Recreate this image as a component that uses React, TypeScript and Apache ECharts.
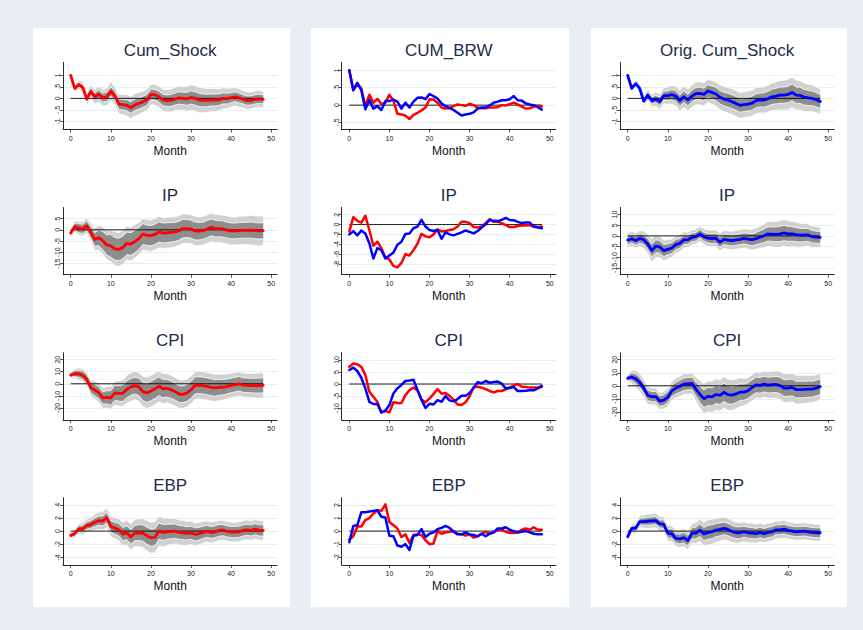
import React, { useEffect, useRef } from "react";
import * as echarts from "echarts";

// ---------- data ----------
const MONTHS = Array.from({ length: 49 }, (_, i) => i);
const X_TICKS = [0, 10, 20, 30, 40, 50];

const TITLES_LEFT = ["Cum_Shock", "IP", "CPI", "EBP"];
const TITLES_MID = ["CUM_BRW", "IP", "CPI", "EBP"];
const TITLES_RIGHT = ["Orig. Cum_Shock", "IP", "CPI", "EBP"];

const LEFT_Y_TICKS = [[-1, -0.5, 0, 0.5, 1], [-15, -10, -5, 0, 5], [-20, -10, 0, 10, 20], [-4, -2, 0, 2, 4]];
const MID_Y_TICKS = [[-0.5, 0, 0.5, 1], [-8, -6, -4, -2, 0, 2], [-10, -5, 0, 5, 10], [-2, -1, 0, 1, 2]];
const RIGHT_Y_TICKS = [[-1, -0.5, 0, 0.5, 1], [-15, -10, -5, 0, 5, 10], [-20, -10, 0, 10, 20], [-4, -2, 0, 2, 4]];

const LEFT_Y_RANGE = [[-1.35, 1.565], [-19.9, 9.9], [-30, 25.8], [-5.15, 5.09]];
const MID_Y_RANGE = [[-0.7, 1.23], [-10.2, 3.47], [-14.9, 13.0], [-2.59, 2.56]];
const RIGHT_Y_RANGE = [[-1.35, 1.565], [-18.2, 13.3], [-26.2, 25.4], [-5.15, 5.09]];

// red (Cum_Shock) impulse responses
const CS_RED = [1.0, 0.43, 0.6, 0.48, -0.03, 0.3, 0.07, 0.18, 0.03, 0.07, 0.3, 0.12, -0.25, -0.27, -0.3, -0.4, -0.28, -0.22, -0.15, -0.07, 0.17, 0.16, 0.07, -0.07, -0.1, -0.09, -0.03, 0.02, 0, -0.02, 0.04, 0, -0.07, -0.09, -0.09, -0.07, -0.07, -0.06, 0, -0.01, 0.03, 0.07, 0.02, -0.04, -0.1, -0.09, -0.04, -0.02, -0.04];
const IP_RED = [-1.4, 1.5, 0.75, 0.4, 1.8, -1.1, -4.3, -3.5, -4.8, -6.7, -7.1, -8.4, -8.7, -7.8, -6.0, -6.3, -5.2, -3.9, -1.9, -2.4, -2.6, -2.0, -0.95, -1.4, -1.3, -1.1, -0.95, -0.4, 0.55, 0.55, 0.3, -0.5, -0.6, -0.4, 0.3, 1.1, 0.55, 0.55, 0.3, -0.1, -0.5, -0.5, -0.3, -0.2, -0.2, -0.1, -0.4, -0.5, -0.4];
const CPI_RED = [7.2, 8.5, 8.2, 7.1, 3.8, -3.2, -5.3, -7.4, -11.8, -11.2, -11.8, -7.6, -7.9, -7.9, -4.6, -2.6, -1.5, -2.6, -6.5, -7.6, -6.0, -4.2, -2.1, -4.0, -3.75, -4.9, -6.5, -8.5, -8.75, -7.6, -5.1, -1.4, -1.1, -1.5, -2.1, -2.9, -3.5, -2.9, -2.9, -2.2, -1.4, -0.7, 0, -1.1, -1.25, -1.5, -1.5, -1.5, -1.25];
const EBP_RED = [-0.65, -0.4, 0.35, 0.35, 0.85, 1.0, 1.35, 1.6, 1.55, 2.05, 0.7, 0.45, 0.2, -0.45, -0.25, -0.9, -0.3, -0.25, -0.3, -0.7, -1.0, -0.95, 0, -0.2, -0.1, -0.05, 0, -0.2, -0.25, -0.35, -0.25, -0.5, -0.4, -0.2, -0.05, -0.2, -0.1, 0.1, 0.15, -0.05, -0.15, -0.15, -0.1, 0.1, 0.2, 0.1, 0.3, 0.1, 0.1];

// blue (Orig. Cum_Shock / BRW) impulse responses
const CS_BLUE = [1.0, 0.43, 0.64, 0.43, -0.12, 0.15, -0.1, -0.03, -0.14, 0.12, 0.12, 0.16, 0.1, -0.1, 0.07, -0.07, 0.1, 0.21, 0.22, 0.17, 0.32, 0.26, 0.19, 0.05, -0.03, -0.08, -0.14, -0.22, -0.3, -0.27, -0.25, -0.21, -0.1, -0.07, -0.07, -0.01, 0.07, 0.1, 0.14, 0.14, 0.17, 0.26, 0.14, 0.13, 0.05, 0.02, 0, -0.06, -0.13];
const IP_BLUE = [-2.0, -1.35, -2.2, -1.2, -1.8, -3.8, -6.9, -4.8, -5.2, -6.9, -6.3, -5.7, -4.1, -3.5, -1.9, -1.8, -0.75, -0.4, 0.95, -0.4, -1.1, -1.3, -1.1, -2.9, -1.6, -2.0, -2.2, -1.9, -1.6, -1.2, -1.5, -1.8, -1.3, -0.6, 0.07, 0.95, 0.75, 0.7, 0.95, 1.35, 0.95, 0.9, 0.55, 0.3, 0.4, 0.4, -0.4, -0.6, -0.75];
const CPI_BLUE = [5.8, 6.8, 5.4, 2.6, -1.8, -7.4, -8.3, -8.3, -11.8, -11.0, -8.75, -3.9, -1.8, -0.4, 1.25, 1.5, 1.8, -2.5, -6.5, -9.9, -8.2, -8.5, -6.7, -7.4, -5.0, -6.8, -7.2, -6.25, -4.9, -4.9, -3.75, -1.5, 0.7, 0.3, 1.25, 0.55, 0.8, 1.0, 0.15, -1.8, -1.7, -1.25, -2.9, -2.9, -2.8, -2.6, -2.6, -1.8, -0.7];
const EBP_BLUE = [-0.85, 0.4, 0.45, 1.45, 1.45, 1.5, 1.55, 1.6, 1.1, 1.05, -0.35, -0.4, -1.1, -1.2, -1.0, -1.45, -0.35, -0.3, 0.15, -0.45, -0.2, -0.1, 0.15, 0.25, 0.4, 0.25, -0.05, -0.25, -0.25, -0.1, -0.25, -0.3, -0.4, -0.2, -0.4, -0.2, -0.1, 0.2, 0.2, 0.3, 0.1, 0, -0.1, -0.05, 0, -0.1, -0.2, -0.25, -0.25];

// band half-widths (68% and 90%) for the red responses
const CS_RED_W68 = [0, 0.06, 0.1, 0.13, 0.15, 0.16, 0.17, 0.18, 0.19, 0.2, 0.2, 0.21, 0.22, 0.23, 0.24, 0.25, 0.25, 0.25, 0.24, 0.24, 0.23, 0.23, 0.24, 0.25, 0.25, 0.26, 0.26, 0.27, 0.27, 0.28, 0.29, 0.29, 0.29, 0.28, 0.27, 0.26, 0.26, 0.25, 0.24, 0.23, 0.22, 0.21, 0.21, 0.2, 0.2, 0.2, 0.2, 0.2, 0.19];
const CS_RED_W90 = [0, 0.12, 0.2, 0.25, 0.28, 0.3, 0.32, 0.34, 0.36, 0.38, 0.4, 0.4, 0.42, 0.44, 0.46, 0.48, 0.48, 0.48, 0.46, 0.45, 0.45, 0.45, 0.46, 0.48, 0.48, 0.5, 0.5, 0.52, 0.52, 0.54, 0.55, 0.55, 0.55, 0.54, 0.52, 0.5, 0.5, 0.48, 0.46, 0.44, 0.42, 0.4, 0.4, 0.38, 0.38, 0.37, 0.36, 0.36, 0.35];
const IP_RED_W68 = [1, 1.5, 2, 2, 2.2, 2.5, 3, 3.5, 4, 4.5, 5, 5, 5, 5, 5, 5, 5, 4.8, 4.6, 4.5, 4.5, 4.5, 4.5, 4.4, 4.4, 4.3, 4.2, 4.2, 4.1, 4, 4, 4, 3.9, 3.8, 3.8, 3.7, 3.7, 3.6, 3.6, 3.5, 3.5, 3.5, 3.5, 3.5, 3.5, 3.6, 3.6, 3.6, 3.5];
const IP_RED_W90 = [2, 2.5, 3, 3.2, 3.5, 4, 5, 5.5, 6, 6.5, 7, 7.5, 7.5, 7.5, 7.5, 7.5, 7.4, 7.2, 7, 7, 7, 7, 7, 6.9, 6.8, 6.8, 6.7, 6.6, 6.6, 6.5, 6.5, 6.5, 6.4, 6.4, 6.3, 6.3, 6.3, 6.2, 6.2, 6.2, 6.2, 6.2, 6.3, 6.3, 6.4, 6.5, 6.6, 6.6, 6.5];
const CPI_RED_W68 = [1.5, 2.5, 3, 3.5, 4, 4.5, 4.8, 5, 5, 5.5, 6, 6.3, 6.5, 6.8, 7, 7, 7, 7.2, 7.5, 7.8, 8, 8, 7.8, 7.6, 7.4, 7.2, 7, 7, 7, 7, 7, 7, 7, 7, 7, 7, 6.8, 6.6, 6.4, 6.2, 6, 6, 6, 6, 6, 6, 6.2, 6.2, 6.2];
const CPI_RED_W90 = [2.5, 4, 5, 5.5, 6, 6.8, 7.5, 8, 8.5, 9, 9.5, 10, 10.5, 11, 11.5, 11.8, 11.8, 12, 12.5, 13, 13, 13, 12.8, 12.5, 12.2, 12, 12, 11.8, 11.8, 11.5, 11.5, 11.5, 11.5, 11.5, 11.5, 11.5, 11.3, 11, 10.8, 10.5, 10.2, 10, 10, 10, 10, 10, 10.2, 10.5, 10.5];
const EBP_RED_W68 = [0.3, 0.4, 0.45, 0.5, 0.55, 0.6, 0.65, 0.7, 0.75, 0.8, 0.85, 0.9, 0.95, 1, 1.05, 1.1, 1.15, 1.2, 1.25, 1.3, 1.3, 1.3, 1.25, 1.2, 1.15, 1.1, 1.1, 1.05, 1.05, 1, 1, 1, 0.95, 0.95, 0.9, 0.9, 0.9, 0.9, 0.85, 0.85, 0.85, 0.85, 0.85, 0.85, 0.85, 0.85, 0.85, 0.85, 0.85];
const EBP_RED_W90 = [0.5, 0.7, 0.8, 0.9, 1, 1.1, 1.2, 1.3, 1.4, 1.5, 1.55, 1.6, 1.7, 1.8, 1.9, 2, 2.05, 2.1, 2.2, 2.3, 2.35, 2.4, 2.3, 2.2, 2.1, 2, 1.95, 1.9, 1.9, 1.85, 1.8, 1.75, 1.7, 1.65, 1.6, 1.6, 1.55, 1.55, 1.5, 1.5, 1.5, 1.5, 1.5, 1.5, 1.5, 1.5, 1.5, 1.5, 1.5];

// band half-widths for the blue responses
const CS_BLUE_W68 = [0, 0.05, 0.08, 0.1, 0.12, 0.13, 0.15, 0.16, 0.18, 0.19, 0.2, 0.22, 0.23, 0.24, 0.25, 0.25, 0.26, 0.26, 0.27, 0.27, 0.27, 0.28, 0.29, 0.29, 0.3, 0.3, 0.3, 0.3, 0.3, 0.3, 0.3, 0.3, 0.3, 0.3, 0.31, 0.32, 0.33, 0.34, 0.35, 0.35, 0.36, 0.36, 0.35, 0.35, 0.34, 0.33, 0.32, 0.31, 0.3];
const CS_BLUE_W90 = [0, 0.1, 0.15, 0.2, 0.22, 0.25, 0.28, 0.3, 0.33, 0.35, 0.38, 0.4, 0.43, 0.45, 0.46, 0.47, 0.48, 0.49, 0.5, 0.5, 0.5, 0.52, 0.53, 0.54, 0.55, 0.55, 0.56, 0.56, 0.56, 0.56, 0.56, 0.56, 0.56, 0.56, 0.57, 0.58, 0.6, 0.62, 0.64, 0.65, 0.66, 0.66, 0.65, 0.64, 0.62, 0.6, 0.58, 0.56, 0.55];
const IP_BLUE_W68 = [2, 2, 2.1, 2.2, 2.3, 2.6, 3, 3, 2.9, 2.8, 2.6, 2.5, 2.4, 2.3, 2.2, 2.1, 2, 2, 2, 2.1, 2.2, 2.3, 2.3, 2.4, 2.4, 2.5, 2.5, 2.5, 2.5, 2.6, 2.7, 2.8, 2.9, 3, 3.2, 3.3, 3.4, 3.5, 3.6, 3.6, 3.5, 3.4, 3.3, 3.2, 3.1, 3, 2.9, 2.8, 2.8];
const IP_BLUE_W90 = [3.5, 3.5, 3.6, 3.8, 4, 4.5, 5.5, 5.3, 5, 4.8, 4.5, 4.3, 4.1, 4, 3.8, 3.6, 3.5, 3.5, 3.5, 3.6, 3.8, 3.9, 4, 4.1, 4.2, 4.3, 4.4, 4.4, 4.4, 4.5, 4.6, 4.8, 5, 5.2, 5.5, 5.8, 6, 6.2, 6.3, 6.3, 6.2, 6, 5.8, 5.6, 5.4, 5.2, 5, 4.9, 4.8];
const CPI_BLUE_W68 = [1.8, 3, 3.8, 4, 4, 4, 3.9, 3.9, 4, 4.1, 4.2, 4.3, 4.5, 4.7, 4.8, 4.8, 4.8, 5.4, 6.2, 6.8, 7, 7, 7, 7, 7, 7, 6.9, 6.7, 6.4, 6.2, 6, 6, 6, 6, 6, 6, 6.1, 6.2, 6.3, 6.4, 6.4, 6.4, 6.4, 6.4, 6.3, 6.2, 6.1, 6, 6];
const CPI_BLUE_W90 = [3, 5, 6.5, 7, 7, 6.8, 6.5, 6.5, 6.5, 6.8, 7, 7.2, 7.5, 7.8, 8, 8, 8, 9, 10.5, 11.5, 12, 12, 12, 12, 12, 12, 11.8, 11.5, 11, 10.5, 10, 10, 10, 10, 10, 10.2, 10.4, 10.6, 10.8, 11, 11, 11, 11, 11, 10.8, 10.6, 10.4, 10.2, 10];
const EBP_BLUE_W68 = [0.3, 0.4, 0.45, 0.5, 0.55, 0.6, 0.6, 0.6, 0.6, 0.65, 0.7, 0.7, 0.7, 0.75, 0.8, 0.8, 0.85, 0.9, 0.95, 1, 1.05, 1.05, 1, 1, 0.95, 0.95, 0.9, 0.9, 0.9, 0.85, 0.85, 0.85, 0.8, 0.8, 0.8, 0.8, 0.8, 0.75, 0.75, 0.75, 0.75, 0.75, 0.75, 0.75, 0.75, 0.75, 0.75, 0.75, 0.75];
const EBP_BLUE_W90 = [0.5, 0.7, 0.8, 0.9, 1, 1.1, 1.1, 1.1, 1.1, 1.15, 1.2, 1.2, 1.25, 1.3, 1.35, 1.4, 1.5, 1.6, 1.7, 1.8, 1.9, 1.9, 1.85, 1.8, 1.75, 1.7, 1.65, 1.6, 1.55, 1.5, 1.5, 1.5, 1.45, 1.45, 1.4, 1.4, 1.4, 1.35, 1.35, 1.35, 1.3, 1.3, 1.3, 1.3, 1.3, 1.3, 1.3, 1.3, 1.3];

const RED_LINES = [CS_RED, IP_RED, CPI_RED, EBP_RED];
const BLUE_LINES = [CS_BLUE, IP_BLUE, CPI_BLUE, EBP_BLUE];
const RED_W68 = [CS_RED_W68, IP_RED_W68, CPI_RED_W68, EBP_RED_W68];
const RED_W90 = [CS_RED_W90, IP_RED_W90, CPI_RED_W90, EBP_RED_W90];
const BLUE_W68 = [CS_BLUE_W68, IP_BLUE_W68, CPI_BLUE_W68, EBP_BLUE_W68];
const BLUE_W90 = [CS_BLUE_W90, IP_BLUE_W90, CPI_BLUE_W90, EBP_BLUE_W90];

// ---------- layout / style ----------
const W = 863;
const H = 630;
const BG = "#e8eef1";
const PANELS = [[33, 290], [311, 569], [591, 847]];
const PANEL_TOP = 28;
const PANEL_BOTTOM = 607;
const COL_X0 = [70.7, 349.3, 627.7];
const PXM = 4.01;
const XMIN = -1.9;
const XMAX = 51.5;
const ROW_TOP = [62.3, 207.5, 352.7, 497.7];
const PLOT_H = 67.2;
const LIGHT = "#d1d1d1";
const DARK = "#8d8d8d";
const RED = "#ff0000";
const BLUE = "#0000ff";
const AXIS_C = "#2a2a2a";
const GRID_C = "#e2edef";
const TITLE_C = "#1d2b4c";
const FONT = "'Liberation Sans', Arial, Helvetica, sans-serif";

function fmtY(v: number): string {
  let s = String(v);
  if (s.startsWith("0.")) s = s.slice(1);
  if (s.startsWith("-0.")) s = "-" + s.slice(2);
  return s;
}

function bandSeries(gi: number, line: number[], w68: number[], w90: number[]) {
  return {
    type: "custom",
    xAxisIndex: gi,
    yAxisIndex: gi,
    silent: true,
    z: 1,
    data: [[0, line[0]]],
    renderItem: (_params: any, api: any) => {
      const pt = (m: number, v: number) => api.coord([m, v]);
      const hi90 = MONTHS.map((m) => pt(m, line[m] + w90[m]));
      const lo90 = MONTHS.map((m) => pt(m, line[m] - w90[m]));
      const hi68 = MONTHS.map((m) => pt(m, line[m] + w68[m]));
      const lo68 = MONTHS.map((m) => pt(m, line[m] - w68[m]));
      const edge = (pts: number[][]) => ({
        type: "polyline",
        shape: { points: pts },
        style: { stroke: "#ffffff", lineWidth: 0.8, fill: "none" },
      });
      return {
        type: "group",
        children: [
          { type: "polygon", shape: { points: hi90.concat(lo90.slice().reverse()) }, style: { fill: LIGHT } },
          { type: "polygon", shape: { points: hi68.concat(lo68.slice().reverse()) }, style: { fill: DARK } },
          edge(hi90),
          edge(lo90),
          edge(hi68),
          edge(lo68),
        ],
      };
    },
  };
}

function lineSeries(gi: number, vals: number[], color: string, width: number, z: number) {
  return {
    type: "line",
    xAxisIndex: gi,
    yAxisIndex: gi,
    data: MONTHS.map((m) => [m, vals[m]]),
    symbol: "none",
    showSymbol: false,
    silent: true,
    z,
    lineStyle: { color, width, join: "round", cap: "round" },
    emphasis: { disabled: true },
  };
}

function zeroSeries(gi: number) {
  return {
    type: "line",
    xAxisIndex: gi,
    yAxisIndex: gi,
    data: MONTHS.map((m) => [m, 0]),
    symbol: "none",
    showSymbol: false,
    silent: true,
    z: 2,
    lineStyle: { color: "#000000", width: 0.9 },
    emphasis: { disabled: true },
  };
}

function buildOption() {
  const grids: any[] = [];
  const xAxes: any[] = [];
  const yAxes: any[] = [];
  const series: any[] = [];
  const graphics: any[] = [];
  const cols = [
    { titles: TITLES_LEFT, ticks: LEFT_Y_TICKS, ranges: LEFT_Y_RANGE },
    { titles: TITLES_MID, ticks: MID_Y_TICKS, ranges: MID_Y_RANGE },
    { titles: TITLES_RIGHT, ticks: RIGHT_Y_TICKS, ranges: RIGHT_Y_RANGE },
  ];
  cols.forEach((col, c) => {
    for (let r = 0; r < 4; r++) {
      const gi = c * 4 + r;
      const left = COL_X0[c] + XMIN * PXM;
      const width = (XMAX - XMIN) * PXM;
      grids.push({ left, top: ROW_TOP[r], width, height: PLOT_H, containLabel: false, outerBoundsMode: "none", show: false });
      xAxes.push({
        type: "value",
        gridIndex: gi,
        min: XMIN,
        max: XMAX,
        axisLine: { show: true, onZero: false, lineStyle: { color: AXIS_C, width: 1 } },
        axisTick: { show: true, length: 3, customValues: X_TICKS, lineStyle: { color: AXIS_C, width: 0.8 } },
        axisLabel: { show: true, customValues: X_TICKS, fontSize: 7, color: "#222", margin: 5, fontFamily: FONT },
        splitLine: { show: false },
        name: "Month",
        nameLocation: "middle",
        nameGap: 15,
        nameTextStyle: { fontSize: 12, color: "#111", fontFamily: FONT },
      });
      yAxes.push({
        type: "value",
        gridIndex: gi,
        min: col.ranges[r][0],
        max: col.ranges[r][1],
        axisLine: { show: true, onZero: false, lineStyle: { color: AXIS_C, width: 1 } },
        axisTick: { show: true, length: 3, customValues: col.ticks[r], lineStyle: { color: AXIS_C, width: 0.8 } },
        axisLabel: {
          show: true,
          customValues: col.ticks[r],
          rotate: 90,
          fontSize: 7,
          color: "#222",
          margin: 2,
          fontFamily: FONT,
          formatter: (v: number) => fmtY(v),
        },
        splitLine: { show: true, lineStyle: { color: GRID_C, width: 0.9 } },
      });
      if (c === 0) {
        series.push(bandSeries(gi, RED_LINES[r], RED_W68[r], RED_W90[r]));
        series.push(zeroSeries(gi));
        series.push(lineSeries(gi, RED_LINES[r], RED, 2.8, 3));
      } else if (c === 1) {
        series.push(zeroSeries(gi));
        series.push(lineSeries(gi, RED_LINES[r], RED, 2.5, 3));
        series.push(lineSeries(gi, BLUE_LINES[r], BLUE, 2.5, 4));
      } else {
        series.push(bandSeries(gi, BLUE_LINES[r], BLUE_W68[r], BLUE_W90[r]));
        series.push(zeroSeries(gi));
        series.push(lineSeries(gi, BLUE_LINES[r], BLUE, 2.8, 3));
      }
      graphics.push({
        type: "text",
        x: left + width / 2,
        y: ROW_TOP[r] - 12,
        silent: true,
        style: {
          text: col.titles[r],
          fill: TITLE_C,
          fontSize: 17,
          fontFamily: FONT,
          align: "center",
          verticalAlign: "middle",
        },
      });
    }
  });
  return {
    animation: false,
    grid: grids,
    xAxis: xAxes,
    yAxis: yAxes,
    series,
    graphic: { elements: graphics },
  };
}

export default function App() {
  const ref = useRef<HTMLDivElement>(null);
  useEffect(() => {
    if (!ref.current) return;
    const chart = echarts.init(ref.current, null, { renderer: "svg", width: W, height: H });
    chart.setOption(buildOption() as any);
    return () => chart.dispose();
  }, []);
  return (
    <div style={{ position: "fixed", left: 0, top: 0, width: W, height: H, background: BG, overflow: "hidden" }}>
      {PANELS.map((p, i) => (
        <div
          key={i}
          style={{
            position: "absolute",
            left: p[0],
            top: PANEL_TOP,
            width: p[1] - p[0],
            height: PANEL_BOTTOM - PANEL_TOP,
            background: "#ffffff",
          }}
        />
      ))}
      <div ref={ref} style={{ position: "absolute", left: 0, top: 0, width: W, height: H }} />
    </div>
  );
}
